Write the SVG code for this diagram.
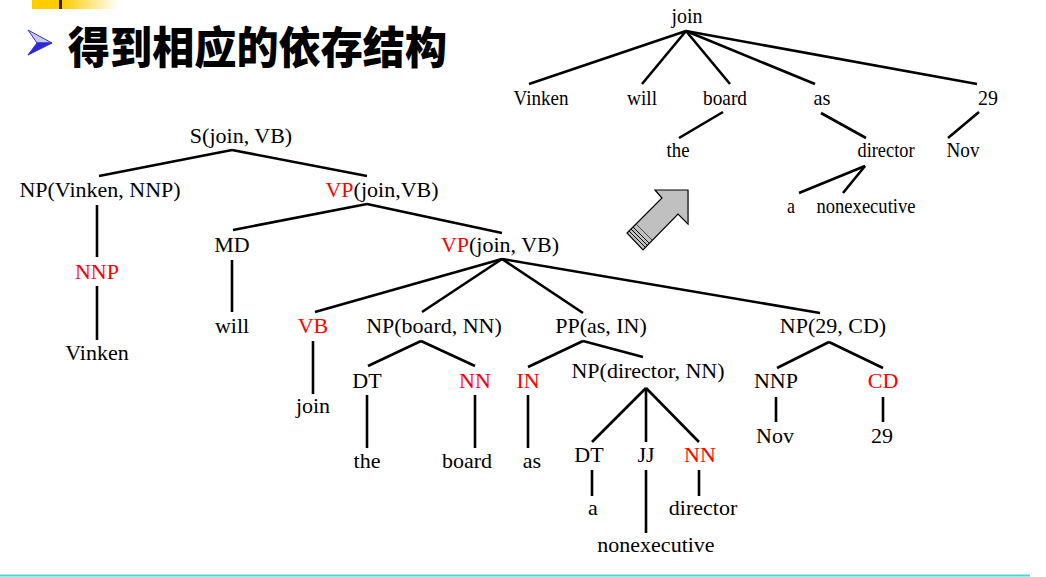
<svg xmlns="http://www.w3.org/2000/svg" width="1046" height="577" viewBox="0 0 1046 577">
<defs>
<linearGradient id="yg" x1="0" y1="0" x2="1" y2="0">
<stop offset="0" stop-color="#FFCC00"/>
<stop offset="1" stop-color="#FFFFFF"/>
</linearGradient>
<style>
.w{font-family:'Liberation Serif','DejaVu Serif',serif;font-size:22px;fill:#000;text-anchor:middle}
.r{fill:#FF0000}
.c line{stroke:#000;stroke-width:2.6;stroke-linecap:butt}
.title{font-family:'Noto Sans CJK SC','Noto Sans',sans-serif;font-weight:900;font-size:44px}
</style>
</defs>
<rect width="1046" height="577" fill="#FFFFFF"/>
<g id="header">
<rect x="32" y="0" width="27" height="9" fill="#FFCC00"/>
<rect x="62" y="0" width="56" height="9" fill="url(#yg)"/>
<rect x="59" y="0" width="3" height="9" fill="#222"/>
<polygon points="28,30 52,43 37,43" fill="#C8C8F0" stroke="#3333CC" stroke-width="1"/>
<polygon points="37,43 52,43 28,55" fill="#2B2BD0" stroke="#2B2BD0" stroke-width="1"/>
<text class="title" x="68" y="64" textLength="379" lengthAdjust="spacingAndGlyphs">得到相应的依存结构</text>
</g>
<g id="bigarrow">
<polygon points="655,190 688,190 688,224 678,214 643,250 627,233 662,198" fill="#C0C0C0" stroke="#000" stroke-width="1.2"/>
<line x1="629" y1="231" x2="645" y2="247" stroke="#000" stroke-width="1"/>
<line x1="631" y1="229" x2="647" y2="245" stroke="#000" stroke-width="1"/>
<line x1="633" y1="227" x2="649" y2="243" stroke="#000" stroke-width="1"/>
<line x1="636" y1="224" x2="652" y2="240" stroke="#444" stroke-width="1"/>
<line x1="688" y1="191" x2="688" y2="223" stroke="#555" stroke-width="2"/>
</g>
<g id="connectors" class="c">
<line x1="232" y1="150" x2="99" y2="176"/>
<line x1="232" y1="150" x2="367" y2="176"/>
<line x1="97" y1="205" x2="97" y2="257"/>
<line x1="97" y1="286" x2="97" y2="340"/>
<line x1="367" y1="204" x2="233" y2="230"/>
<line x1="367" y1="204" x2="502" y2="233"/>
<line x1="232" y1="260" x2="232" y2="312"/>
<line x1="502" y1="259" x2="315" y2="312"/>
<line x1="502" y1="259" x2="422" y2="312"/>
<line x1="502" y1="259" x2="583" y2="313"/>
<line x1="502" y1="259" x2="820" y2="313"/>
<line x1="313" y1="341" x2="313" y2="394"/>
<line x1="421" y1="341" x2="368" y2="366"/>
<line x1="421" y1="341" x2="475" y2="366"/>
<line x1="367" y1="395" x2="367" y2="448"/>
<line x1="475" y1="395" x2="475" y2="448"/>
<line x1="528" y1="395" x2="528" y2="448"/>
<line x1="583" y1="341" x2="528" y2="367"/>
<line x1="583" y1="341" x2="643" y2="357"/>
<line x1="646" y1="388" x2="592" y2="442"/>
<line x1="646" y1="388" x2="646" y2="442"/>
<line x1="646" y1="388" x2="699" y2="442"/>
<line x1="592" y1="470" x2="592" y2="496"/>
<line x1="646" y1="470" x2="646" y2="533"/>
<line x1="699" y1="470" x2="699" y2="496"/>
<line x1="829" y1="342" x2="777" y2="368"/>
<line x1="829" y1="342" x2="883" y2="368"/>
<line x1="776" y1="397" x2="776" y2="422"/>
<line x1="883" y1="397" x2="883" y2="422"/>
<line x1="686" y1="31" x2="529" y2="84"/>
<line x1="686" y1="31" x2="642" y2="84"/>
<line x1="686" y1="31" x2="730" y2="84"/>
<line x1="686" y1="31" x2="815" y2="84"/>
<line x1="686" y1="31" x2="977" y2="84"/>
<line x1="723" y1="112" x2="679" y2="138"/>
<line x1="821" y1="113" x2="866" y2="138"/>
<line x1="979" y1="112" x2="948" y2="138"/>
<line x1="865" y1="166" x2="799" y2="193"/>
<line x1="865" y1="166" x2="843" y2="193"/>
</g>
<g id="constituency" class="w" font-family="Liberation Serif, serif">
<g id="n-S"><text class="w" x="241" y="143">S(join, VB)</text></g>
<g id="n-NP-Vinken"><text class="w" x="100" y="197">NP(Vinken, NNP)</text></g>
<g id="n-VP1"><text class="w" x="382" y="197"><tspan class="r">VP</tspan>(join,VB)</text></g>
<g id="n-NNP1"><text class="w r" x="97" y="279">NNP</text></g>
<g id="n-Vinken"><text class="w" x="97" y="360">Vinken</text></g>
<g id="n-MD"><text class="w" x="232" y="252">MD</text></g>
<g id="n-will"><text class="w" x="232" y="333">will</text></g>
<g id="n-VP2"><text class="w" x="500" y="252"><tspan class="r">VP</tspan>(join, VB)</text></g>
<g id="n-VB"><text class="w r" x="313" y="333">VB</text></g>
<g id="n-NP-board"><text class="w" x="434" y="333">NP(board, NN)</text></g>
<g id="n-PP"><text class="w" x="601" y="333">PP(as, IN)</text></g>
<g id="n-NP-29"><text class="w" x="833" y="333">NP(29, CD)</text></g>
<g id="n-join"><text class="w" x="313" y="413">join</text></g>
<g id="n-DT1"><text class="w" x="367" y="388">DT</text></g>
<g id="n-NN1"><text class="w r" x="475" y="388">NN</text></g>
<g id="n-IN"><text class="w r" x="528" y="388">IN</text></g>
<g id="n-NP-director"><text class="w" x="648" y="378">NP(director, NN)</text></g>
<g id="n-the"><text class="w" x="367" y="468">the</text></g>
<g id="n-board"><text class="w" x="467" y="468">board</text></g>
<g id="n-as"><text class="w" x="532" y="468">as</text></g>
<g id="n-DT2"><text class="w" x="589" y="462">DT</text></g>
<g id="n-JJ"><text class="w" x="646" y="462">JJ</text></g>
<g id="n-NN2"><text class="w r" x="700" y="462">NN</text></g>
<g id="n-a"><text class="w" x="593" y="515">a</text></g>
<g id="n-director"><text class="w" x="703" y="515">director</text></g>
<g id="n-nonexecutive"><text class="w" x="656" y="552">nonexecutive</text></g>
<g id="n-NNP2"><text class="w" x="776" y="388">NNP</text></g>
<g id="n-CD"><text class="w r" x="883" y="388">CD</text></g>
<g id="n-Nov"><text class="w" x="775" y="443">Nov</text></g>
<g id="n-29"><text class="w" x="882" y="443">29</text></g>
</g>
<g id="dependency">
<g id="d-join"><text class="w" x="687" y="23" textLength="31" lengthAdjust="spacingAndGlyphs">join</text></g>
<g id="d-Vinken"><text class="w" x="541" y="105" textLength="55" lengthAdjust="spacingAndGlyphs">Vinken</text></g>
<g id="d-will"><text class="w" x="642" y="105" textLength="30" lengthAdjust="spacingAndGlyphs">will</text></g>
<g id="d-board"><text class="w" x="725" y="105" textLength="44" lengthAdjust="spacingAndGlyphs">board</text></g>
<g id="d-as"><text class="w" x="822" y="105" textLength="17" lengthAdjust="spacingAndGlyphs">as</text></g>
<g id="d-29"><text class="w" x="988" y="105" textLength="20" lengthAdjust="spacingAndGlyphs">29</text></g>
<g id="d-the"><text class="w" x="678" y="157" textLength="23" lengthAdjust="spacingAndGlyphs">the</text></g>
<g id="d-director"><text class="w" x="886" y="157" textLength="57" lengthAdjust="spacingAndGlyphs">director</text></g>
<g id="d-Nov"><text class="w" x="963" y="157" textLength="33" lengthAdjust="spacingAndGlyphs">Nov</text></g>
<g id="d-a"><text class="w" x="791" y="213" textLength="8" lengthAdjust="spacingAndGlyphs">a</text></g>
<g id="d-nonexecutive"><text class="w" x="866" y="213" textLength="99" lengthAdjust="spacingAndGlyphs">nonexecutive</text></g>
</g>
<line id="footer-line" x1="0" y1="575.5" x2="1030" y2="575.5" stroke="#4DD6D0" stroke-width="2"/>
</svg>
